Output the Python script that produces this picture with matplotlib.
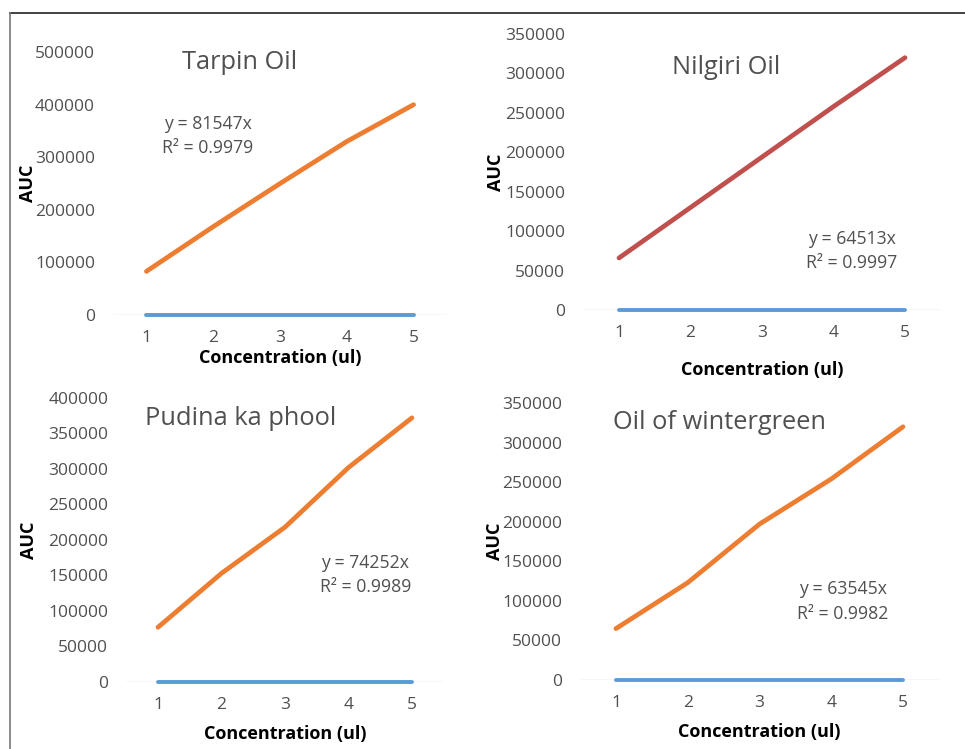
import matplotlib
matplotlib.use("Agg")
import matplotlib.pyplot as plt
from matplotlib.lines import Line2D

plt.rcParams['font.family'] = ['Open Sans', 'DejaVu Sans']

# data
conc = [1, 2, 3, 4, 5]
blank = [0, 0, 0, 0, 0]
titles = ["Tarpin Oil", "Nilgiri Oil", "Pudina ka phool", "Oil of wintergreen"]
tarpin_auc = [83000, 168000, 250000, 330000, 400000]
nilgiri_auc = [66000, 130000, 194000, 258000, 320000]
pudina_auc = [77000, 153000, 218000, 302000, 372000]
winter_auc = [65000, 123000, 197000, 254000, 320000]
equations = ["y = 81547x\nR² = 0.9979", "y = 64513x\nR² = 0.9997",
             "y = 74252x\nR² = 0.9989", "y = 63545x\nR² = 0.9982"]
y_max = [500000, 350000, 400000, 350000]
y_step = [100000, 50000, 50000, 50000]

series = [tarpin_auc, nilgiri_auc, pudina_auc, winter_auc]
line_colors = ['#ED7D31', '#C0504D', '#ED7D31', '#ED7D31']

# layout (figure fractions) and text spots (axes fractions)
rects = [[0.1171, 0.5794, 0.3461, 0.3511],
         [0.6044, 0.5861, 0.3705, 0.3685],
         [0.1308, 0.0895, 0.3290, 0.3792],
         [0.6011, 0.0921, 0.3718, 0.3698]]
title_xy = [(0.380, 0.962), (0.400, 0.877), (0.359, 0.926), (0.390, 0.928)]
eq_xy = [(0.284, 0.682), (0.752, 0.215), (0.753, 0.377), (0.733, 0.283)]
auc_x = [-0.255, -0.245, -0.307, -0.236]
xlab_y = [-0.163, -0.217, -0.183, -0.188]

grey = '#505050'

fig = plt.figure(figsize=(9.65, 7.49), dpi=100)

for i in range(4):
    ax = fig.add_axes(rects[i])
    ax.set_xlim(0.5, 5.5)
    ax.set_ylim(0, y_max[i])
    ax.axhline(0, color='#D9D9D9', lw=1, zorder=1)
    ax.plot(conc, blank, color='#5B9BD5', lw=2.8, solid_capstyle='round',
            clip_on=False, zorder=3)
    ax.plot(conc, series[i], color=line_colors[i], lw=3.4,
            solid_capstyle='round', clip_on=False, zorder=4)
    for s in ax.spines.values():
        s.set_visible(False)
    ax.set_xticks(conc)
    ticks = list(range(0, y_max[i] + 1, y_step[i]))
    ax.set_yticks(ticks)
    ax.set_yticklabels([str(t) for t in ticks])
    ax.tick_params(length=0, labelsize=12.5, labelcolor=grey)
    ax.tick_params(axis='y', pad=13)
    ax.tick_params(axis='x', pad=11)

    ax.text(title_xy[i][0], title_xy[i][1], titles[i], transform=ax.transAxes,
            ha='center', va='center', fontsize=18.3, color=grey)
    ax.text(eq_xy[i][0], eq_xy[i][1], equations[i], transform=ax.transAxes,
            ha='center', va='center', fontsize=12.7, color=grey,
            linespacing=1.45)

    ax.set_ylabel("AUC", fontsize=13, fontweight='bold', color='black')
    ax.yaxis.set_label_coords(auc_x[i], 0.5)
    ax.yaxis.label.set_va('center')
    ax.set_xlabel("Concentration (ul)", fontsize=13, fontweight='bold',
                  color='black')
    ax.xaxis.set_label_coords(0.5, xlab_y[i])
    ax.xaxis.label.set_va('center')

# page frame
fig.add_artist(Line2D([10 / 965, 1.0], [1 - 13 / 749, 1 - 13 / 749],
                      color='#222222', lw=1.2, transform=fig.transFigure))
fig.add_artist(Line2D([10 / 965, 10 / 965], [0, 1 - 13 / 749],
                      color='#777777', lw=1.2, transform=fig.transFigure))

fig.savefig('out.png', dpi=100)
